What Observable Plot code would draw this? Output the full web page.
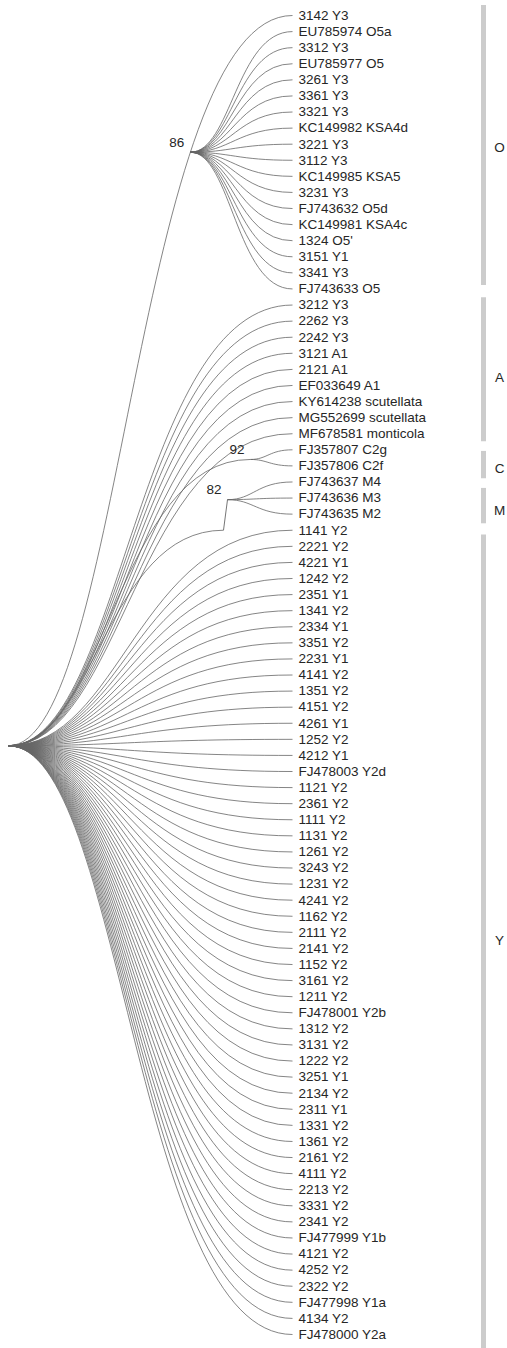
<!DOCTYPE html>
<html>
<head>
<meta charset="utf-8">
<script src="https://cdn.jsdelivr.net/npm/d3@7"></script>
<script src="https://cdn.jsdelivr.net/npm/@observablehq/plot@0.6"></script>
<style>
  html, body { margin: 0; padding: 0; background: #fff; }
  #chart svg { display: block; }
</style>
</head>
<body>
<div id="chart"></div>
<script>
// ---------- data ----------
const cladeO = ["3142 Y3","EU785974 O5a","3312 Y3","EU785977 O5","3261 Y3","3361 Y3","3321 Y3","KC149982 KSA4d","3221 Y3","3112 Y3","KC149985 KSA5","3231 Y3","FJ743632 O5d","KC149981 KSA4c","1324 O5'","3151 Y1","3341 Y3","FJ743633 O5"];
const cladeA = ["3212 Y3","2262 Y3","2242 Y3","3121 A1","2121 A1","EF033649 A1","KY614238 scutellata","MG552699 scutellata","MF678581 monticola"];
const cladeC = ["FJ357807 C2g","FJ357806 C2f"];
const cladeM = ["FJ743637 M4","FJ743636 M3","FJ743635 M2"];
const cladeY = ["1141 Y2","2221 Y2","4221 Y1","1242 Y2","2351 Y1","1341 Y2","2334 Y1","3351 Y2","2231 Y1","4141 Y2","1351 Y2","4151 Y2","4261 Y1","1252 Y2","4212 Y1","FJ478003 Y2d","1121 Y2","2361 Y2","1111 Y2","1131 Y2","1261 Y2","3243 Y2","1231 Y2","4241 Y2","1162 Y2","2111 Y2","2141 Y2","1152 Y2","3161 Y2","1211 Y2","FJ478001 Y2b","1312 Y2","3131 Y2","1222 Y2","3251 Y1","2134 Y2","2311 Y1","1331 Y2","1361 Y2","2161 Y2","4111 Y2","2213 Y2","3331 Y2","2341 Y2","FJ477999 Y1b","4121 Y2","4252 Y2","2322 Y2","FJ477998 Y1a","4134 Y2","FJ478000 Y2a"];

const groupNames = ["O","A","C","M","Y"];
const groupStart = [-0.62, 17.55, 27.1, 29.4, 32.3];   // bar extents in leaf rows
const groupEnd   = [16.78, 26.5, 28.8, 31.6, 82.9];
const groupLabelRow = [8.2, 22.5, 28.2, 30.8, 57.5];

// internal nodes: depth and row (n86 sits on the root -> first-leaf branch)
const nodeNames  = ["root","n86","n92","n82","n82bend"];
const nodeDepth  = [8, null, 250, 227, 223];
const nodeRow    = [45.4, 8.5, 27.6, 30.1, 32.0];
const nodeParent = [null, "root", "root", "n82bend", "root"];
const nodeSupport = [null, 86, 92, 82, null];

const leafDepth = 292;
const cladeParent = {O: "n86", A: "root", C: "n92", M: "n82", Y: "root"};

// ---------- branch curve ----------
const CA = 0.4, CB = 0.45; // control point fractions
const treeCurve = (context) => {
  let p = [];
  return {
    areaStart() {}, areaEnd() {},
    lineStart() { p = []; },
    point(x, y) { p.push([+x, +y]); },
    lineEnd() {
      if (p.length < 2) return;
      const [[x0, y0], [x1, y1]] = p;
      const dx = x1 - x0;
      context.moveTo(x0, y0);
      context.bezierCurveTo(x0 + CA * dx, y0, x0 + CB * dx, y1, x1, y1);
    }
  };
};
// depth on a branch (a -> b) at a given row
function depthOnBranch(a, b, row) {
  const s = (row - a.y) / (b.y - a.y);
  let lo = 0, hi = 1;
  for (let k = 0; k < 50; k++) {
    const t = (lo + hi) / 2;
    const ys = 3 * (1 - t) * t * t + t * t * t;
    if (ys < s) lo = t; else hi = t;
  }
  const t = (lo + hi) / 2;
  const xs = 3 * (1 - t) * (1 - t) * t * CA + 3 * (1 - t) * t * t * CB + t * t * t;
  return a.x + (b.x - a.x) * xs;
}

// ---------- build tables ----------
const clades = {O: cladeO, A: cladeA, C: cladeC, M: cladeM, Y: cladeY};
const nodes = nodeNames.map((n, i) => ({name: n, x: nodeDepth[i], y: nodeRow[i], parent: nodeParent[i], support: nodeSupport[i]}));
const nodeBy = new Map(nodes.map(d => [d.name, d]));
const leaves = [];
let row = 0;
for (const g of groupNames) {
  clades[g].forEach((name, j) => {
    const parent = (g === "O" && j === 0) ? "root" : cladeParent[g];
    leaves.push({name, group: g, x: leafDepth, y: row++, parent});
  });
}
const n86 = nodeBy.get("n86");
n86.x = depthOnBranch(nodeBy.get("root"), leaves[0], n86.y);

const curvedLinks = [];
for (const l of leaves) {
  const p = nodeBy.get(l.parent);
  curvedLinks.push({x1: p.x, y1: p.y, x2: l.x, y2: l.y});
}
const straightLinks = [];
for (const n of nodes) {
  if (!n.parent || n.name === "n86") continue; // n86 lies on the drawn root branch
  const p = nodeBy.get(n.parent);
  if (n.name === "n82") straightLinks.push({x1: p.x, y1: p.y, x2: n.x, y2: n.y});
  else curvedLinks.push({x1: p.x, y1: p.y, x2: n.x, y2: n.y});
}
const groups = groupNames.map((g, i) => ({name: g, y1: groupStart[i], y2: groupEnd[i], mid: groupLabelRow[i]}));

const font = "'Liberation Sans', Arial, Helvetica, sans-serif";

const chart = Plot.plot({
  width: 507,
  height: 1348,
  margin: 0,
  style: {fontFamily: font, background: "#fff"},
  x: {domain: [0, 507], range: [0, 507], axis: null},
  y: {domain: [0, 82], range: [15, 1334], axis: null},
  marks: [
    Plot.link(curvedLinks, {x1: "x1", y1: "y1", x2: "x2", y2: "y2", curve: treeCurve, stroke: "#666", strokeWidth: 0.8}),
    Plot.link(straightLinks, {x1: "x1", y1: "y1", x2: "x2", y2: "y2", stroke: "#666", strokeWidth: 0.9}),
    Plot.text(leaves, {x: "x", y: "y", text: "name", textAnchor: "start", dx: 6, fontSize: 13.5, fill: "#262626"}),
    Plot.text(nodes.filter(d => d.support != null), {x: "x", y: "y", text: d => String(d.support), textAnchor: "end", dx: -6, dy: -10, fontSize: 13.5, fill: "#262626"}),
    Plot.ruleX(groups, {x: 483, y1: "y1", y2: "y2", stroke: "#cccccc", strokeWidth: 5}),
    Plot.text(groups, {x: 499, y: "mid", text: "name", textAnchor: "middle", fontSize: 13.5, fill: "#262626"})
  ]
});
document.getElementById("chart").append(chart);
</script>
</body>
</html>
